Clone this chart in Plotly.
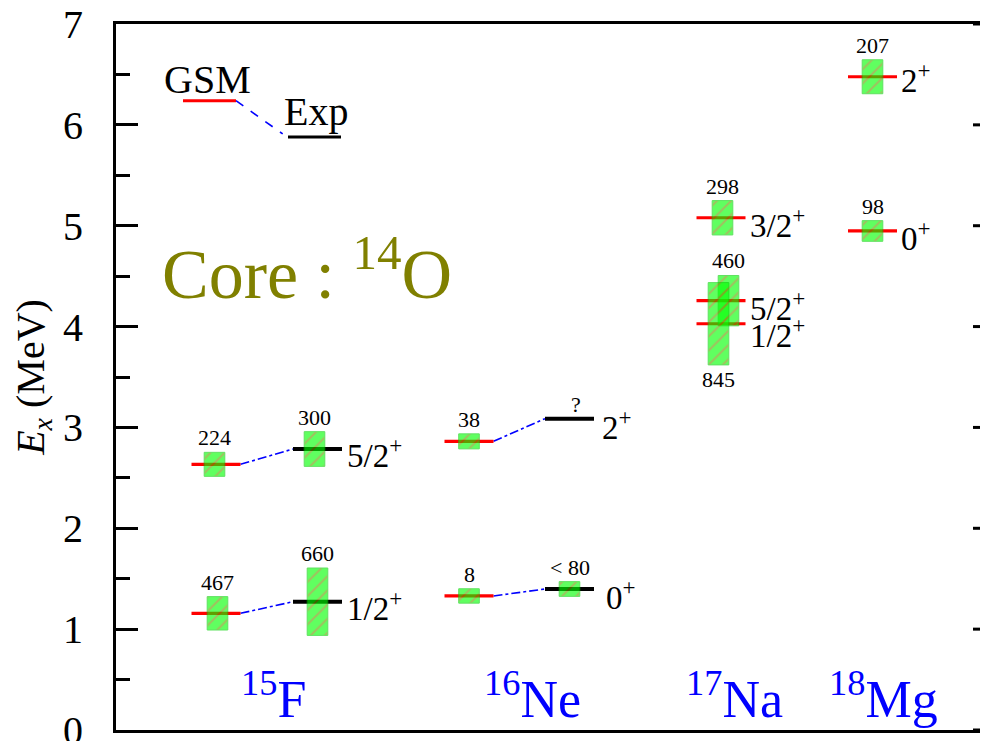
import plotly.graph_objects as go

# ---------------- data ----------------
columns = ["15F GSM", "15F Exp", "16Ne GSM", "16Ne Exp", "17Na GSM", "18Mg GSM"]
state_column = [0, 1, 0, 1, 2, 3, 2, 3, 4, 4, 4, 5, 5]
state_model = ["GSM", "Exp", "GSM", "Exp", "GSM", "Exp", "GSM", "Exp",
               "GSM", "GSM", "GSM", "GSM", "GSM"]
energies = [1.157, 1.272, 2.634, 2.786, 1.329, 1.398, 2.862, 3.087,
            5.079, 4.257, 4.028, 4.948, 6.477]
width_labels = ["467", "660", "224", "300", "8", "< 80", "38", "?",
                "298", "460", "845", "98", "207"]
box_heights = [0.331, 0.668, 0.238, 0.344, 0.143, 0.146, 0.149, None,
               0.341, 0.499, 0.816, 0.205, 0.337]
spin_labels = ["", "1/2<sup>+</sup>", "", "5/2<sup>+</sup>", "", "0<sup>+</sup>",
               "", "2<sup>+</sup>", "3/2<sup>+</sup>", "5/2<sup>+</sup>",
               "1/2<sup>+</sup>", "0<sup>+</sup>", "2<sup>+</sup>"]
connections = [(0, 1), (2, 3), (4, 5), (6, 7)]
nuclei = ["<sup>15</sup>F", "<sup>16</sup>Ne", "<sup>17</sup>Na", "<sup>18</sup>Mg"]
y_ticks = [0, 1, 2, 3, 4, 5, 6, 7]

# ---------------- layout helpers ----------------
column_x = [1.0, 2.015, 3.53, 4.535, 6.05, 7.565]
nucleus_x = [1.57, 4.16, 6.18, 7.675]
half_len = 0.245
box_half_w = 0.103
box_dx = [0.015, 0, -0.015, -0.03, 0, 0, 0, 0, 0.015, 0.075, -0.025, 0, 0]
spin_shift = [0, -4, 0, -4, 0, -6, 0, -6, -5, -5, -9, -5, -1]
spin_dx = [0, 0.03, 0, 0.03, 0, 0.10, 0, 0.06, 0.025, 0.025, 0.025, 0.015, 0.015]
label_dx = [0, 0, 0, 0, 0, 0, 0, 0.06, 0, 0, 0, 0, 0]

FONT = "Times New Roman, Liberation Serif, Tinos, DejaVu Serif, serif"
fig = go.Figure()

# connectors
for g, e in connections:
    xg = column_x[state_column[g]] + half_len
    xe = column_x[state_column[e]] - half_len
    fig.add_trace(go.Scatter(x=[xg, xe], y=[energies[g], energies[e]], mode="lines",
                             line=dict(color="#0000ff", width=1.6, dash="dashdot"),
                             hoverinfo="skip", showlegend=False))

# level lines
for i, E in enumerate(energies):
    xc = column_x[state_column[i]]
    gsm = state_model[i] == "GSM"
    fig.add_trace(go.Scatter(x=[xc - half_len, xc + half_len], y=[E, E], mode="lines",
                             line=dict(color="#ff0000" if gsm else "#000000",
                                       width=3.2 if gsm else 4),
                             hoverinfo="skip", showlegend=False))

# width boxes
for i, E in enumerate(energies):
    h = box_heights[i]
    if h is None:
        continue
    xc = column_x[state_column[i]] + box_dx[i]
    x0, x1 = xc - box_half_w, xc + box_half_w
    y0, y1 = E - h / 2, E + h / 2
    fig.add_trace(go.Scatter(x=[x0, x1, x1, x0, x0], y=[y0, y0, y1, y1, y0],
                             mode="lines", fill="toself",
                             fillcolor="#00ff00",
                             fillpattern=dict(shape="/", fgcolor="#d83000",
                                              bgcolor="#00ff00", size=10, solidity=0.2),
                             line=dict(color="#00d000", width=1),
                             opacity=0.62, hoverinfo="skip", showlegend=False))

annotations = []
# width labels
for i, E in enumerate(energies):
    h = box_heights[i]
    xc = column_x[state_column[i]] + box_dx[i] + label_dx[i]
    if width_labels[i] == "845":
        y, anchor = E - h / 2, "top"
    else:
        y, anchor = (E + h / 2 if h is not None else E), "bottom"
    annotations.append(dict(x=xc, y=y, text=width_labels[i], showarrow=False,
                            xanchor="center", yanchor=anchor,
                            font=dict(family=FONT, size=22, color="black")))
# spin labels
for i, E in enumerate(energies):
    if not spin_labels[i]:
        continue
    xr = column_x[state_column[i]] + half_len + spin_dx[i]
    annotations.append(dict(x=xr, y=E, text=spin_labels[i], showarrow=False,
                            xanchor="left", yanchor="middle", yshift=spin_shift[i],
                            font=dict(family=FONT, size=33, color="black")))
# nucleus labels
for k, name in enumerate(nuclei):
    annotations.append(dict(x=nucleus_x[k], y=0.34, text=name, showarrow=False,
                            xanchor="center", yanchor="middle",
                            font=dict(family=FONT, size=52, color="#0000ff")))
# core label
annotations.append(dict(x=0.44, y=4.57, text="Core : <sup>14</sup>O", showarrow=False,
                        xanchor="left", yanchor="middle",
                        font=dict(family=FONT, size=70, color="#808000")))
# legend
annotations.append(dict(x=0.915, y=6.445, text="GSM", showarrow=False,
                        xanchor="center", yanchor="middle",
                        font=dict(family=FONT, size=40, color="black")))
annotations.append(dict(x=1.995, y=6.13, text="Exp", showarrow=False,
                        xanchor="center", yanchor="middle",
                        font=dict(family=FONT, size=40, color="black")))
fig.add_trace(go.Scatter(x=[0.67, 1.20], y=[6.24, 6.24], mode="lines",
                         line=dict(color="#ff0000", width=3), hoverinfo="skip", showlegend=False))
fig.add_trace(go.Scatter(x=[1.20, 1.667], y=[6.24, 5.91], mode="lines",
                         line=dict(color="#0000ff", width=1.6, dash="dash"),
                         hoverinfo="skip", showlegend=False))
fig.add_trace(go.Scatter(x=[1.72, 2.25], y=[5.88, 5.88], mode="lines",
                         line=dict(color="#000000", width=3), hoverinfo="skip", showlegend=False))

# right-hand ticks (right axis lies just outside the picture)
shapes = []
for t in y_ticks:
    shapes.append(dict(type="line", xref="x", yref="y", x0=8.57, x1=8.80, y0=t, y1=t,
                       line=dict(color="black", width=3)))
    if t < 7:
        shapes.append(dict(type="line", xref="x", yref="y", x0=8.65, x1=8.80,
                           y0=t + 0.5, y1=t + 0.5, line=dict(color="black", width=3)))

# the page body adds an 8 px offset, so the figure is 8 px smaller and shifted
fig.update_layout(
    width=980, height=733,
    margin=dict(l=108, r=0, t=16, b=11),
    paper_bgcolor="white", plot_bgcolor="white",
    font=dict(family=FONT, color="black"),
    annotations=annotations, shapes=shapes,
    xaxis=dict(range=[0, 8.72], showgrid=False, zeroline=False, showticklabels=False,
               ticks="", showline=True, linecolor="black", linewidth=3, mirror=True,
               automargin=False),
    yaxis=dict(range=[0, 7], tickvals=y_ticks, ticks="inside", ticklen=22, tickwidth=3,
               tickcolor="black", showgrid=False, zeroline=False, automargin=False,
               showline=True, linecolor="black", linewidth=3,
               ticklabeloverflow="allow",
               minor=dict(dtick=0.5, ticks="inside", ticklen=14, tickwidth=3,
                          tickcolor="black", showgrid=False),
               tickfont=dict(family=FONT, size=40, color="black"),
               ticklabelstandoff=22,
               title=dict(text="<i>E</i><sub><i>x</i></sub> (MeV)",
                          font=dict(family=FONT, size=40, color="black"), standoff=18)),
)

fig.write_html("out.html")
